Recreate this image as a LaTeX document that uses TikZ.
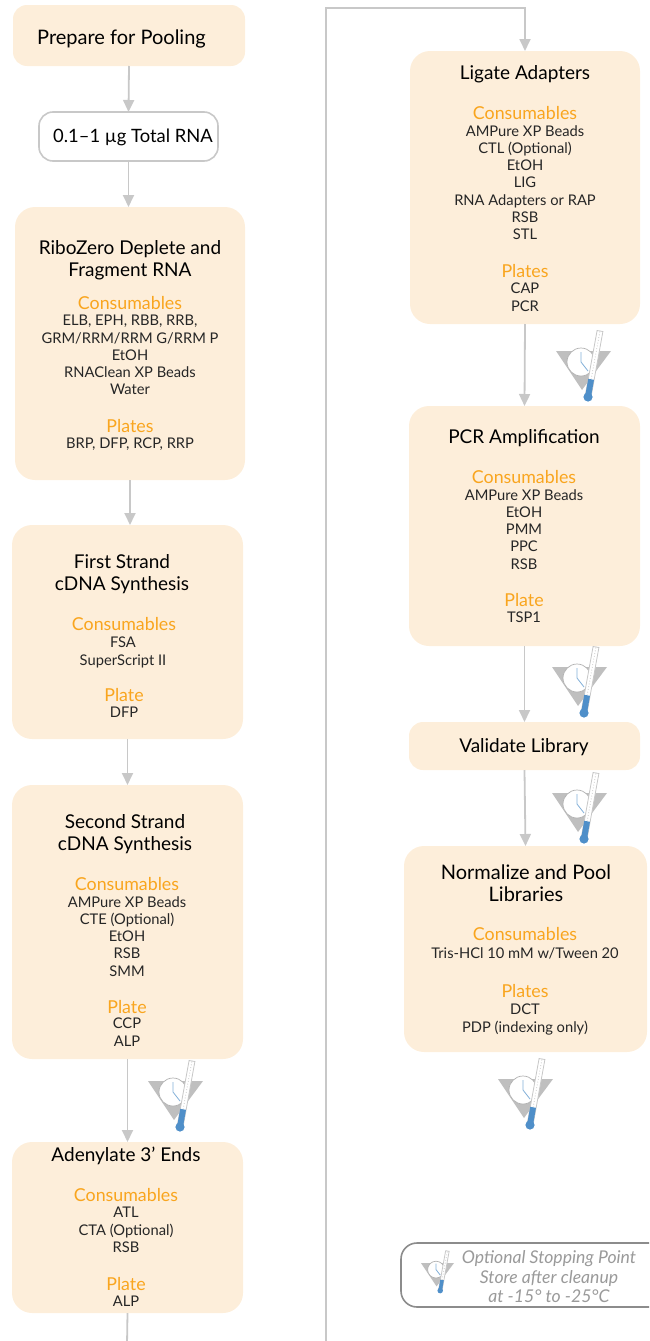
\documentclass[tikz,border=0pt]{standalone}
\usepackage{fontspec}
\setmainfont{Lato}
\usetikzlibrary{arrows.meta}
\definecolor{peach}{HTML}{FDEEDA}
\definecolor{linegrey}{HTML}{C8C8C8}
\definecolor{headorange}{HTML}{F9A51E}
\definecolor{bodyink}{HTML}{262626}
\definecolor{iconblue}{HTML}{4F8FC9}
\definecolor{legendgrey}{HTML}{8C8C8C}
\definecolor{legendink}{HTML}{9A9A9A}
\newcommand{\bx}[6]{\node[#1,minimum width=#4-#3,minimum height=#6-#5] (#2) at ({(#3+#4)/2},{(#5+#6)/2}) {};}
\tikzset{
  stepbox/.style={rounded corners=20pt,fill=peach,inner sep=0pt,outer sep=0pt},
  smallbox/.style={rounded corners=14pt,fill=peach,inner sep=0pt,outer sep=0pt},
  rnabox/.style={rounded corners=14pt,draw=linegrey,line width=1.6pt,fill=white,inner sep=0pt,outer sep=0pt},
  legendbox/.style={rounded corners=16pt,draw=legendgrey,line width=1.6pt,fill=white,inner sep=0pt,outer sep=0pt},
  title/.style={font=\fontsize{19}{22}\selectfont,text=black,align=center,inner sep=0pt},
  head/.style={font=\fontsize{17.8}{18}\selectfont,text=headorange,inner sep=0pt},
  items/.style={font=\fontsize{14.7}{17.3}\selectfont,text=bodyink,align=center,inner sep=0pt,anchor=north},
  legendtext/.style={font=\fontsize{17.6}{19.5}\selectfont\itshape,text=legendink,align=center,inner sep=0pt},
  flow/.style={draw=linegrey,line width=1.8pt,-{Triangle[width=11pt,length=12pt]}},
  plainflow/.style={draw=linegrey,line width=1.8pt},
  stopicon/.pic={
    \fill[black!25] (0,0) -- (55,0) -- (26,39) -- cycle;
    \draw[black!30,fill=white,line width=0.7pt] (25,11) circle[radius=14];
    \draw[iconblue!70,line width=0.8pt] (25,1) -- (25,11) -- (32,20);
    \draw[black!22,fill=white,line width=0.8pt] (29.1,45.5) -- (41.1,-20.5) -- (46.9,-19.5) -- (34.9,46.5) -- cycle;
    \draw[black!22,line width=0.8pt,dotted] (35.1,28.3) -- (44,-20);
    \fill[iconblue] (29.1,45.5) -- (32.2,27.8) -- (38,28.8) -- (34.9,46.5) -- cycle;
    \fill[iconblue] (32,46) circle[radius=4.6];
  }
}
\begin{document}
\begin{tikzpicture}[x=1pt,y=-1pt]
\useasboundingbox (0,0) rectangle (649,1341);
\clip (0,0) rectangle (649,1341);
% boxes
\bx{smallbox}{prep}{13}{245}{5}{66}
\bx{rnabox}{rna}{39}{218}{112}{161}
\bx{stepbox}{ribo}{15}{245}{207}{480}
\bx{stepbox}{first}{12}{243}{525}{739}
\bx{stepbox}{second}{12}{243}{785}{1059}
\bx{stepbox}{aden}{12}{243}{1142}{1313}
\bx{stepbox}{lig}{410}{640}{51}{324}
\bx{stepbox}{pcr}{409}{640}{406}{646}
\bx{smallbox}{valid}{409}{640}{722}{770}
\bx{stepbox}{norm}{404}{647}{846}{1052}
\bx{legendbox}{legend}{401}{670}{1243}{1307}
% free ends of the long connector
\coordinate (downend) at (127,1345);
\coordinate (upstart) at (326,1345);
\coordinate (upcorner) at (326,8);
\coordinate (ligtop) at (lig.north |- upcorner);
% connectors
\draw[flow] (prep.south) -- (rna.north);
\draw[flow] (rna.south) -- (ribo.north -| rna.south);
\draw[flow] (ribo.south) -- (ribo.south |- first.north);
\draw[flow] (first.south) -- (second.north);
\draw[flow] (second.south) -- (aden.north);
\draw[plainflow] (aden.south) -- (downend);
\draw[flow] (upstart) -- (upcorner) -- (ligtop) -- (lig.north);
\draw[flow] (lig.south) -- (pcr.north);
\draw[flow] (pcr.south) -- (valid.north);
\draw[flow] (valid.south) -- (norm.north);
% texts
\node[title,font=\fontsize{20}{22}\selectfont] (t1) at (121.5,38.5) {Prepare for Pooling};
\node[title,font=\fontsize{18.4}{22}\selectfont] (t2) at (133,137) {0.1–1 µg Total RNA};

\node[title] (t3) at (130,260.3) {RiboZero Deplete and\\Fragment RNA};
\node[head] (h3a) at (130,303) {Consumables};
\node[items] (i3a) at (130,315) {ELB, EPH, RBB, RRB,\\GRM/RRM/RRM G/RRM P\\EtOH\\RNAClean XP Beads\\Water};
\node[head] (h3b) at (130,426) {Plates};
\node[items] (i3b) at (130,438) {BRP, DFP, RCP, RRP};

\node[title] (t4) at (122,574.3) {First Strand\\cDNA Synthesis};
\node[head] (h4a) at (124,624) {Consumables};
\node[items] (i4a) at (123,637) {FSA\\SuperScript II};
\node[head] (h4b) at (124,695) {Plate};
\node[items] (i4b) at (124,707) {DFP};

\node[title] (t5) at (125,834.3) {Second Strand\\cDNA Synthesis};
\node[head] (h5a) at (127,884) {Consumables};
\node[items] (i5a) at (127,896) {AMPure XP Beads\\CTE (Optional)\\EtOH\\RSB\\SMM};
\node[head] (h5b) at (127,1007) {Plate};
\node[items] (i5b) at (127,1018) {CCP\\ALP};

\node[title] (t6) at (126,1156) {Adenylate 3’ Ends};
\node[head] (h6a) at (126,1195) {Consumables};
\node[items] (i6a) at (126,1207) {ATL\\CTA (Optional)\\RSB};
\node[head] (h6b) at (126,1284) {Plate};
\node[items] (i6b) at (126,1296) {ALP};

\node[title] (t7) at (525,74.5) {Ligate Adapters};
\node[head] (h7a) at (525,113) {Consumables};
\node[items] (i7a) at (525,125) {AMPure XP Beads\\CTL (Optional)\\EtOH\\LIG\\RNA Adapters or RAP\\RSB\\STL};
\node[head] (h7b) at (525,271) {Plates};
\node[items] (i7b) at (525,283) {CAP\\PCR};

\node[title] (t8) at (524,438.5) {PCR Amplification};
\node[head] (h8a) at (524,477) {Consumables};
\node[items] (i8a) at (524,489) {AMPure XP Beads\\EtOH\\PMM\\PPC\\RSB};
\node[head] (h8b) at (524,600) {Plate};
\node[items] (i8b) at (524,612) {TSP1};

\node[title] (t9) at (524,747.5) {Validate Library};

\node[title,font=\fontsize{20}{22}\selectfont] (t10) at (526,883) {Normalize and Pool\\Libraries};
\node[head] (h10a) at (525,934) {Consumables};
\node[items] (i10a) at (525,947) {Tris-HCl 10 mM w/Tween 20};
\node[head] (h10b) at (525,991) {Plates};
\node[items] (i10b) at (525,1004) {DCT\\PDP (indexing only)};

\node[legendtext] (lt) at (549,1277) {Optional Stopping Point\\Store after cleanup\\at -15° to -25°C};
% stopping point icons
\pic at (148,1081) {stopicon};
\pic at (556,351) {stopicon};
\pic at (552,667) {stopicon};
\pic at (552,793) {stopicon};
\pic at (498,1079) {stopicon};
\pic[scale=0.6] at (421,1263) {stopicon};
\end{tikzpicture}
\end{document}
